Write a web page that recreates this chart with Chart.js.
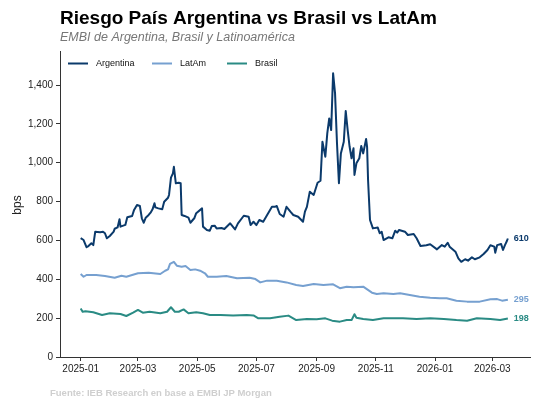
<!DOCTYPE html>
<html lang="es">
  <head>
    <meta charset="UTF-8" />
    <title>Riesgo País</title>
    <script src="https://cdn.jsdelivr.net/npm/chart.js@4.4.1/dist/chart.umd.min.js"></script>
    <style>
      body { margin: 0; background: #fff; }
      #wrap { width: 540px; height: 405px; }
    </style>
  </head>
  <body>
    <div id="wrap"><canvas id="chart" width="540" height="405"></canvas></div>
    <script>
      // days counted from 2025-01-01
      const argDays = [0,3,6,8,11,13,15,20,23,25,27,30,34,35,38,40,41,46,48,53,55,58,61,63,65,67,70,72,74,76,77,80,84,86,90,91,93,95,96,98,101,103,104,107,111,113,117,119,125,126,130,133,135,138,140,145,148,154,159,162,168,173,175,178,181,184,188,191,197,200,202,205,209,212,216,219,224,229,231,233,236,240,244,247,249,252,254,256,258,260,262,264,266,268,271,273,275,277,279,281,282,284,287,289,291,294,295,296,298,301,306,308,310,312,317,321,324,326,328,334,337,343,346,350,356,360,367,372,375,378,380,386,389,392,396,399,403,406,411,415,419,422,426,427,429,433,435,437,439,440]
      const argVals = [612,602,565,571,585,576,645,642,645,637,611,623,645,660,667,709,671,680,719,726,757,782,777,714,691,717,731,743,760,791,770,765,760,799,820,834,923,945,979,894,897,894,731,726,717,691,714,740,765,671,654,650,674,676,662,664,659,688,657,688,727,722,679,696,679,705,696,722,773,773,777,736,722,773,748,731,722,696,748,773,851,834,897,907,1108,1031,1151,1228,1168,1460,1357,1100,894,1048,1108,1266,1168,1082,1023,1074,937,997,1023,1086,1048,1122,1082,911,705,662,666,637,645,602,616,611,650,640,654,645,628,633,611,571,575,580,554,576,568,588,568,542,508,490,503,496,513,503,513,530,551,575,568,537,576,582,551,576,597,610]

      const latDays = [0,3,6,16,25,35,42,47,59,70,82,87,90,92,96,99,104,108,113,118,123,128,131,140,150,161,174,180,185,192,202,212,222,229,240,250,260,267,274,281,291,300,305,312,322,329,339,349,360,370,377,387,398,411,422,429,434,440]
      const latVals = [427,413,422,422,417,408,418,413,431,434,427,444,451,479,490,470,465,468,448,451,444,431,413,413,417,405,408,401,384,393,393,384,371,365,376,371,374,354,362,359,362,331,324,328,324,328,319,310,305,302,302,290,285,285,297,298,290,295]

      const braDays = [0,2,5,13,22,30,41,47,54,59,64,71,82,89,93,97,101,106,111,119,126,133,144,157,171,178,183,195,205,214,222,233,243,252,259,267,274,279,282,284,291,301,312,322,332,346,360,374,387,398,408,422,432,440]
      const braVals = [250,233,236,230,216,225,221,211,228,242,228,233,225,233,256,233,233,245,225,230,225,216,216,213,216,214,199,199,207,213,190,196,194,199,187,182,190,190,220,202,196,190,199,199,199,196,199,196,190,187,199,196,190,198]

      const tickDays = [0,59,120,181,243,304,365,424]
      const tickLabels = ['2025-01','2025-03','2025-05','2025-07','2025-09','2025-11','2026-01','2026-03']
      const yTicks = [0,200,400,600,800,1000,1200,1400]

      const FONT = '"Liberation Sans", Arial, sans-serif'

      function pts(days, vals) {
        return days.map((d, i) => ({ x: d, y: vals[i] }))
      }

      const textPlugin = {
        id: 'texts',
        afterDraw(chart) {
          const c = chart.ctx
          c.save()
          c.textBaseline = 'alphabetic'
          c.textAlign = 'left'
          c.fillStyle = '#000'
          c.font = 'bold 19px ' + FONT
          c.fillText('Riesgo País Argentina vs Brasil vs LatAm', 60, 24)
          c.fillStyle = '#777'
          c.font = 'italic 12.5px ' + FONT
          c.fillText('EMBI de Argentina, Brasil y Latinoamérica', 60, 41)
          c.fillStyle = '#cfcfcf'
          c.font = 'bold 9.5px ' + FONT
          c.fillText('Fuente: IEB Research en base a EMBI JP Morgan', 50, 396)

          // y title
          c.save()
          c.translate(21, 205)
          c.rotate(-Math.PI / 2)
          c.textAlign = 'center'
          c.fillStyle = '#222'
          c.font = '12px ' + FONT
          c.fillText('bps', 0, 0)
          c.restore()

          // legend
          const legX = [68, 152, 227]
          c.font = '9px ' + FONT
          c.textBaseline = 'middle'
          chart.data.datasets.forEach((ds, i) => {
            c.strokeStyle = ds.borderColor
            c.lineWidth = 2
            c.beginPath()
            c.moveTo(legX[i], 63.5)
            c.lineTo(legX[i] + 20, 63.5)
            c.stroke()
            c.fillStyle = '#111'
            c.fillText(ds.label, legX[i] + 28, 64)
          })

          // end labels
          c.font = 'bold 9px ' + FONT
          chart.data.datasets.forEach((ds, i) => {
            const meta = chart.getDatasetMeta(i)
            const last = meta.data[meta.data.length - 1]
            const val = ds.data[ds.data.length - 1].y
            c.fillStyle = ds.borderColor
            c.fillText(String(val), last.x + 6, last.y)
          })
          c.restore()
        },
      }

      const ctx = document.getElementById('chart').getContext('2d')
      const myChart = new Chart(ctx, {
        type: 'line',
        data: {
          datasets: [
            { label: 'Argentina', data: pts(argDays, argVals), borderColor: '#0b3a6b', borderWidth: 2 },
            { label: 'LatAm', data: pts(latDays, latVals), borderColor: '#76a0d0', borderWidth: 2 },
            { label: 'Brasil', data: pts(braDays, braVals), borderColor: '#2a8b84', borderWidth: 2 },
          ],
        },
        options: {
          responsive: false,
          animation: false,
          devicePixelRatio: 1,
          layout: { padding: { top: 51, right: 10, bottom: 0, left: 0 } },
          elements: { point: { radius: 0 }, line: { tension: 0, borderJoinStyle: 'round' } },
          plugins: { legend: { display: false }, title: { display: false }, tooltip: { enabled: false } },
          scales: {
            x: {
              type: 'linear',
              min: -21.3,
              max: 462.8,
              afterFit: (s) => { s.height = 48 },
              afterBuildTicks: (s) => { s.ticks = tickDays.map((v) => ({ value: v })) },
              ticks: {
                autoSkip: false,
                maxRotation: 0,
                padding: 2,
                color: '#222',
                font: { family: FONT, size: 10 },
                callback: (v, i) => tickLabels[i],
              },
              grid: { drawOnChartArea: false, tickLength: 4, color: '#333' },
              border: { display: true, color: '#333', width: 1 },
            },
            y: {
              min: 0,
              max: 1575,
              afterFit: (s) => { s.width = 60 },
              afterBuildTicks: (s) => { s.ticks = yTicks.map((v) => ({ value: v })) },
              ticks: {
                padding: 3,
                color: '#222',
                font: { family: FONT, size: 10 },
                callback: (v) => v.toLocaleString('en-US'),
              },
              grid: { drawOnChartArea: false, tickLength: 4, color: '#333' },
              border: { display: true, color: '#333', width: 1 },
            },
          },
        },
        plugins: [textPlugin],
      })
    </script>
  </body>
</html>
